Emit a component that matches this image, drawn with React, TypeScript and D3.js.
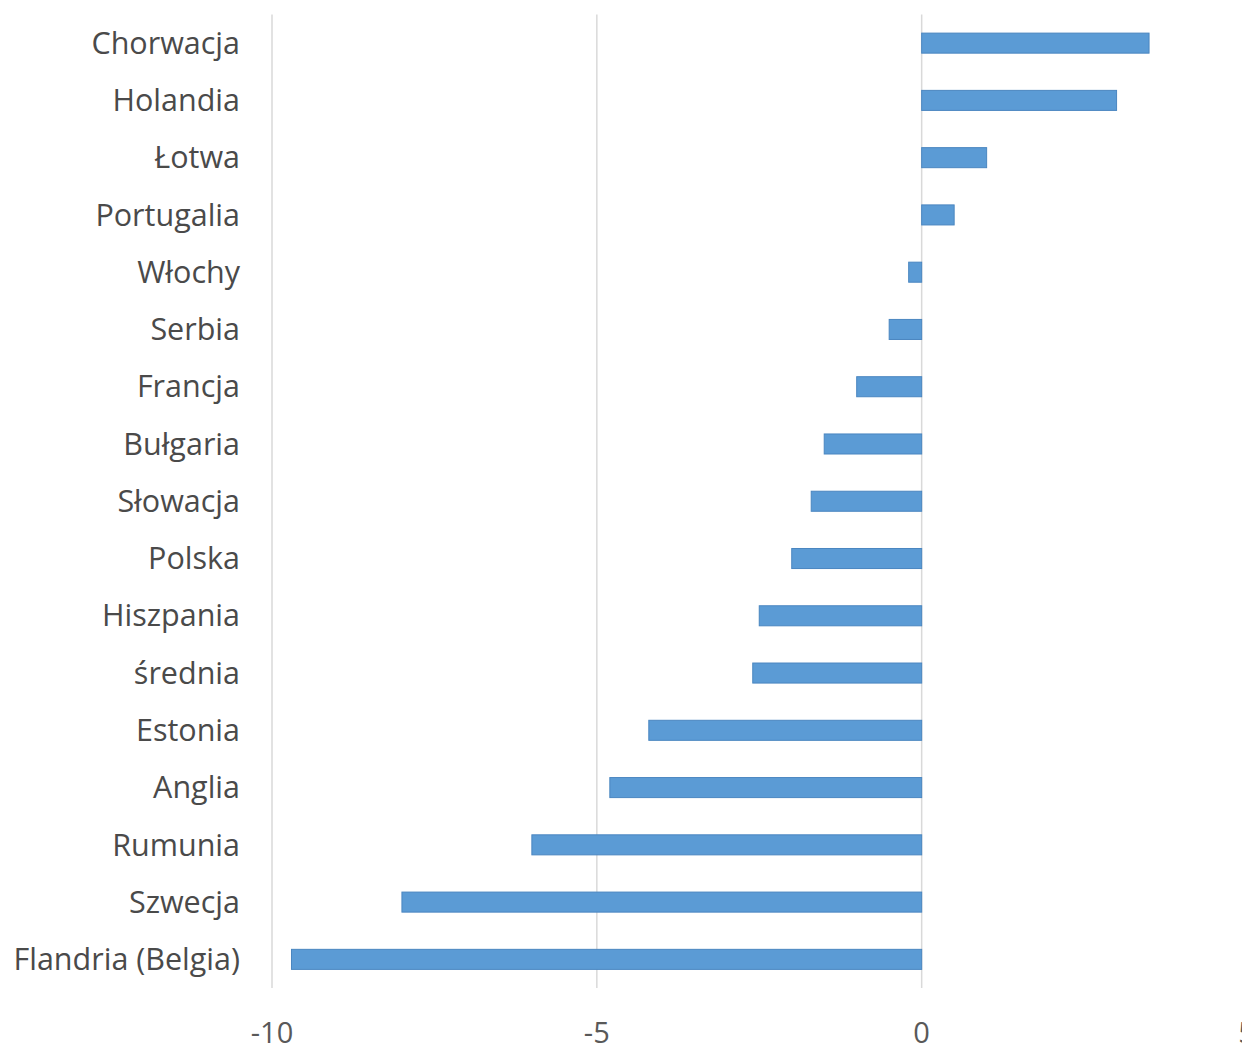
import React from "react";
import * as d3 from "d3";

const categories = [
  "Chorwacja", "Holandia", "Łotwa", "Portugalia", "Włochy", "Serbia", "Francja",
  "Bułgaria", "Słowacja", "Polska", "Hiszpania", "średnia", "Estonia", "Anglia",
  "Rumunia", "Szwecja", "Flandria (Belgia)",
];
const values = [3.5, 3.0, 1.0, 0.5, -0.2, -0.5, -1.0, -1.5, -1.7, -2.0, -2.5, -2.6, -4.2, -4.8, -6.0, -8.0, -9.7];
const tickValues = [-10, -5, 0, 5];

const W = 1242;
const H = 1046;

export default function App() {
  const x = d3.scaleLinear().domain([-10, 5]).range([272, 1246.5]);
  const y = d3.scaleBand<string>().domain(categories).range([14.5, 988]).paddingInner(0.65).paddingOuter(0.325);
  const font = "'Open Sans', Lato, sans-serif";
  return (
    <svg width={W} height={H} style={{ position: "absolute", left: 0, top: 0, background: "#fff" }} fontFamily={font}>
      {tickValues.map((t) => (
        <g key={t}>
          <line x1={x(t)} x2={x(t)} y1={14.5} y2={988} stroke="#d9d9d9" strokeWidth={1.5} />
          <text x={x(t)} y={1043} textAnchor="middle" fontSize={29} fill="#595959">{t}</text>
        </g>
      ))}
      {categories.map((c, i) => {
        const v = values[i];
        const bx = Math.min(x(0), x(v));
        const bw = Math.abs(x(v) - x(0));
        return (
          <g key={c}>
            <rect x={bx} y={y(c)!} width={bw} height={y.bandwidth()} fill="#5b9bd5" stroke="#4a86c0" strokeWidth={1} />
            <text x={240} y={y(c)! + y.bandwidth() / 2} dy="0.35em" textAnchor="end" fontSize={30.5} fill="#4a4a4a">{c}</text>
          </g>
        );
      })}
    </svg>
  );
}
